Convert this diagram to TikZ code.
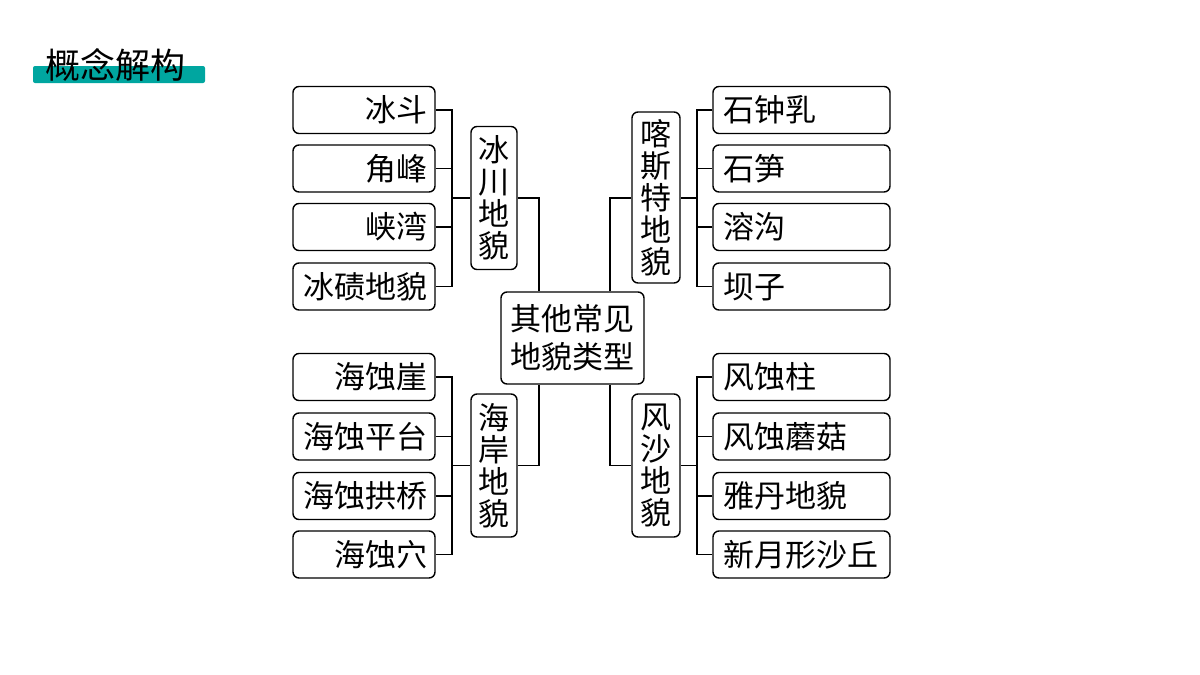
\documentclass[tikz,border=0pt]{standalone}
\usepackage{fontspec}
\newfontfamily\cjk{Noto Sans CJK SC}
\begin{document}
\begin{tikzpicture}[x=1pt,y=-1pt,
  box/.style={draw=black,line width=1.4pt,rounded corners=6pt,inner sep=0pt,font=\cjk\fontsize{31}{32}\selectfont},
  lleaf/.style={box,minimum width=142pt,minimum height=47pt,text width=126pt,inner xsep=8pt,align=right},
  rleaf/.style={box,minimum width=177pt,minimum height=47pt,text width=157pt,inner xsep=10pt,align=left},
  vbox/.style={box,minimum height=143pt,text width=32pt,align=center},
  conn/.style={line width=1.4pt,line join=miter}]
\useasboundingbox (0,0) rectangle (1200,675);
% title
\fill[fill={rgb,255:red,0;green,166;blue,160},rounded corners=2pt] (33,66) rectangle (205,83);
\node[font=\cjk\fontsize{35}{37}\selectfont,anchor=west,inner sep=0pt] (title) at (45,65) {概念解构};
% center
\node[box,minimum width=143pt,minimum height=92pt,align=center,font=\cjk\fontsize{31}{38}\selectfont] (c) at (572.5,338) {其他常见\\地貌类型};
% vertical category boxes
\node[vbox,minimum width=46pt] (g) at (494,198) {冰\\川\\地\\貌};
\node[vbox,minimum width=48pt,minimum height=171pt] (k) at (656,197.5) {喀\\斯\\特\\地\\貌};
\node[vbox,minimum width=46pt] (s) at (494,465.5) {海\\岸\\地\\貌};
\node[vbox,minimum width=48pt] (w) at (656,465.5) {风\\沙\\地\\貌};
% left leaves
\node[lleaf] (g1) at (364,110) {冰斗};
\node[lleaf] (g2) at (364,168.5) {角峰};
\node[lleaf] (g3) at (364,227) {峡湾};
\node[lleaf] (g4) at (364,286.5) {冰碛地貌};
\node[lleaf] (s1) at (364,377) {海蚀崖};
\node[lleaf] (s2) at (364,436.5) {海蚀平台};
\node[lleaf] (s3) at (364,496) {海蚀拱桥};
\node[lleaf] (s4) at (364,554.5) {海蚀穴};
% right leaves
\node[rleaf] (k1) at (801.5,110) {石钟乳};
\node[rleaf] (k2) at (801.5,168.5) {石笋};
\node[rleaf] (k3) at (801.5,227) {溶沟};
\node[rleaf] (k4) at (801.5,286.5) {坝子};
\node[rleaf] (w1) at (801.5,377) {风蚀柱};
\node[rleaf] (w2) at (801.5,436.5) {风蚀蘑菇};
\node[rleaf] (w3) at (801.5,496) {雅丹地貌};
\node[rleaf] (w4) at (801.5,554.5) {新月形沙丘};
% junction coordinates
\coordinate (gj) at (452,198);
\coordinate (sj) at (452,465.5);
\coordinate (kj) at (697,198);
\coordinate (wj) at (697,465.5);
\coordinate (cgl) at (539,0);
\coordinate (cgr) at (610,0);
% connectors
\foreach \n in {g1,g2,g3,g4} \draw[conn] (\n.east) -| (gj);
\foreach \n in {s1,s2,s3,s4} \draw[conn] (\n.east) -| (sj);
\foreach \n in {k1,k2,k3,k4} \draw[conn] (\n.west) -| (kj);
\foreach \n in {w1,w2,w3,w4} \draw[conn] (\n.west) -| (wj);
\draw[conn] (gj) -- (g.west);
\draw[conn] (sj) -- (s.west);
\draw[conn] (kj) -- (k.east |- kj);
\draw[conn] (wj) -- (w.east);
\draw[conn] (g.east |- gj) -| (cgl |- c.north);
\draw[conn] (s.east) -| (cgl |- c.south);
\draw[conn] (k.west |- kj) -| (cgr |- c.north);
\draw[conn] (w.west) -| (cgr |- c.south);
\end{tikzpicture}
\end{document}
